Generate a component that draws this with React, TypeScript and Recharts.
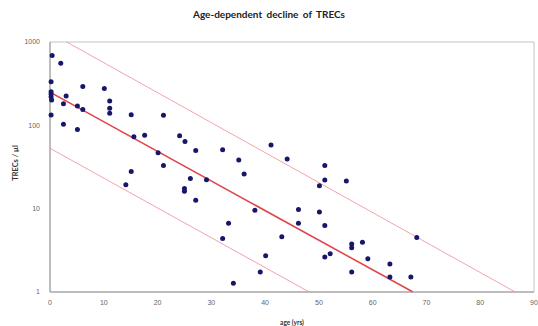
import {
  ScatterChart,
  Scatter,
  XAxis,
  YAxis,
  ReferenceLine,
  ReferenceArea,
} from "recharts";

// age in years, TRECs per µl
const ages = [
  0.4, 2.0, 0.2, 0.2, 0.2, 0.2, 0.3, 3.0, 2.5, 0.2, 6.1, 5.1, 6.1, 2.5, 5.1,
  10.1, 11.1, 11.1, 11.1, 15.1, 21.1, 15.6, 17.6, 24.1, 25.1, 27.1, 20.1, 21.1,
  15.1, 14.1, 26.1, 25.0, 25.0, 27.1, 29.1, 32.1, 35.1, 36.1, 41.1, 44.1, 51.1,
  51.1, 50.1, 55.1, 38.1, 46.2, 50.1, 46.2, 51.1, 33.2, 32.1, 43.1, 40.1, 39.1,
  34.1, 51.1, 52.1, 56.1, 56.1, 58.1, 59.1, 56.1, 63.2, 63.2, 67.1, 68.2,
];
const trecs = [
  690, 556, 333, 253, 238, 221, 202, 225, 181, 133, 292, 171, 155, 103, 89,
  276, 196, 160, 140, 134, 132, 73, 76, 75, 64, 50, 47, 33,
  28, 19.4, 23, 17.5, 16.2, 12.6, 22.3, 51, 38.5, 26, 58, 39.5, 33,
  22.1, 18.9, 21.5, 9.6, 9.8, 9.1, 6.7, 6.3, 6.7, 4.4, 4.6, 2.73, 1.74,
  1.27, 2.63, 2.88, 3.77, 3.4, 3.95, 2.5, 1.74, 2.17, 1.51, 1.51, 4.5,
];

// fitted decline and the two bounds, as [start, end] points
const fitLine = [
  { x: 0, y: 250 },
  { x: 67.5, y: 1 },
];
const upperLine = [
  { x: 3.1, y: 1000 },
  { x: 86.5, y: 1 },
];
const lowerLine = [
  { x: 0, y: 53 },
  { x: 48.2, y: 1 },
];

const xTicks = [0, 10, 20, 30, 40, 50, 60, 70, 80, 90];
const yTicks = [1, 10, 100, 1000];

const points = ages.map((a, i) => ({ age: a, trec: trecs[i] }));

const tickStyle = {
  fontSize: 7,
  fill: "#666",
  fontFamily: "'Liberation Sans', Arial, sans-serif",
};

const Dot = (props: any) => (
  <circle cx={props.cx} cy={props.cy} r={2.5} fill="#17176a" />
);

export default function App() {
  return (
    <div
      style={{
        position: "absolute",
        left: 0,
        top: 0,
        width: 538,
        height: 326,
        background: "#fff",
      }}
    >
      <div
        style={{
          position: "absolute",
          top: 8,
          left: 0,
          width: 538,
          textAlign: "center",
          fontFamily: "Lato, 'Open Sans', sans-serif",
          fontWeight: 700,
          fontSize: 10,
          wordSpacing: 2,
          color: "#222",
        }}
      >
        Age-dependent decline of TRECs
      </div>
      <ScatterChart
        width={538}
        height={326}
        margin={{ top: 42, right: 4, left: 10, bottom: 0 }}
      >
        <ReferenceArea
          x1={0}
          x2={90}
          y1={1}
          y2={1000}
          fill="none"
          stroke="#c4c4c4"
          strokeWidth={1}
        />
        <XAxis
          type="number"
          dataKey="age"
          domain={[0, 90]}
          ticks={xTicks}
          tickLine={false}
          height={34}
          axisLine={{ stroke: "#999" }}
          tick={tickStyle}
          label={{
            value: "age (yrs)",
            position: "insideBottom",
            offset: 1,
            style: {
              fontSize: 6.5,
              fontWeight: 700,
              fill: "#333",
              fontFamily: "Lato, sans-serif",
            },
          }}
        />
        <YAxis
          type="number"
          dataKey="trec"
          scale="log"
          domain={[1, 1000]}
          ticks={yTicks}
          allowDataOverflow
          tickLine={false}
          tickMargin={4}
          width={40}
          axisLine={{ stroke: "#999" }}
          tick={tickStyle}
          label={{
            value: "TRECs / µl",
            angle: -90,
            position: "center",
            dx: -15,
            dy: -4,
            style: {
              fontSize: 7.5,
              fontWeight: 700,
              fill: "#333",
              fontFamily: "Lato, sans-serif",
            },
          }}
        />
        <ReferenceLine
          segment={upperLine}
          stroke="#f2a3ab"
          strokeWidth={1}
        />
        <ReferenceLine
          segment={lowerLine}
          stroke="#f2a3ab"
          strokeWidth={1}
        />
        <ReferenceLine segment={fitLine} stroke="#e0464c" strokeWidth={1.6} />
        <Scatter data={points} shape={Dot} isAnimationActive={false} />
      </ScatterChart>
    </div>
  );
}
